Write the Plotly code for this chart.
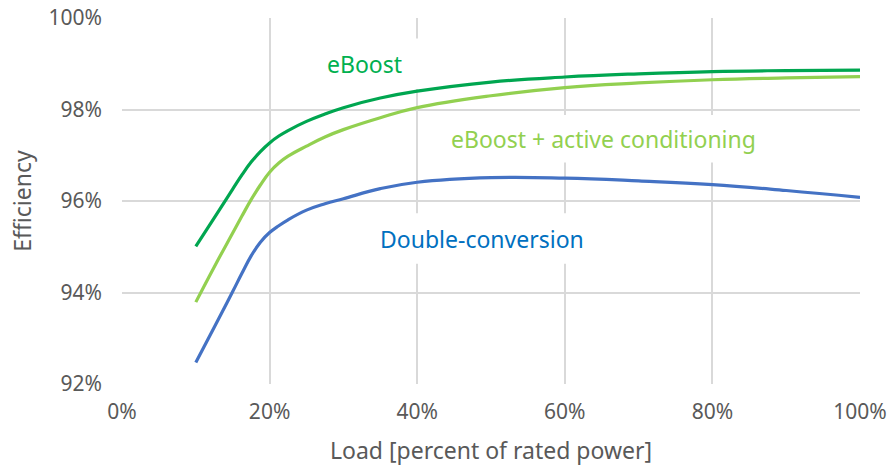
import plotly.graph_objects as go

load = [10, 12.5, 15, 16.25, 17.5, 18.75, 20, 21.25, 22.5, 25, 27.5, 30, 35, 40, 50, 60, 70, 80, 90, 100]
eboost = [95.01, 95.63, 96.26, 96.57, 96.85, 97.08, 97.27, 97.42, 97.54, 97.74, 97.90, 98.04, 98.25, 98.40,
          98.60, 98.71, 98.78, 98.83, 98.85, 98.86]
eboost_active = [93.79, 94.56, 95.30, 95.67, 96.03, 96.35, 96.63, 96.83, 96.98, 97.20, 97.40, 97.56, 97.82, 98.04,
                 98.30, 98.48, 98.58, 98.65, 98.69, 98.72]
double_conv = [92.47, 93.24, 94.02, 94.42, 94.80, 95.10, 95.31, 95.46, 95.59, 95.80, 95.94, 96.05, 96.27, 96.41,
               96.51, 96.50, 96.44, 96.36, 96.23, 96.08]

series_names = ["eBoost", "eBoost + active conditioning", "Double-conversion"]
line_colors = ["#00A650", "#92D050", "#4472C4"]
label_colors = ["#00B050", "#92D050", "#0070C0"]

x_ticks = [0, 20, 40, 60, 80, 100]
y_ticks = [92, 94, 96, 98, 100]

FONT = "Noto Sans"
GREY = "#595959"

fig = go.Figure()
for name, ys, col in zip(series_names, [eboost, eboost_active, double_conv], line_colors):
    fig.add_trace(go.Scatter(x=load, y=ys, mode="lines", name=name,
                             line=dict(color=col, width=3.2, shape="spline", smoothing=1.2)))

# in-plot labels: (center x, center y) in data units, and white label-box half sizes
label_pos = [(32.8, 99.0), (65.3, 97.36), (48.8, 95.18)]
box_half = [(7.5, 0.55), (22.5, 0.52), (15.5, 0.55)]
for (lx, ly), (hw, hh), txt, col in zip(label_pos, box_half, series_names, label_colors):
    fig.add_shape(type="rect", xref="x", yref="y", x0=lx - hw, x1=lx + hw, y0=ly - hh, y1=ly + hh,
                  fillcolor="white", line=dict(width=0), layer="between")
    fig.add_annotation(x=lx, y=ly, xref="x", yref="y", text=txt, showarrow=False,
                       font=dict(family=FONT, size=23, color=col))

fig.update_layout(
    width=890, height=466,
    margin=dict(l=122, r=30, t=18, b=82),
    paper_bgcolor="white", plot_bgcolor="white",
    showlegend=False,
    font=dict(family=FONT, color=GREY),
)
fig.update_xaxes(range=[0, 100], tickvals=x_ticks, ticktext=[f"{v}%" for v in x_ticks],
                 showgrid=True, gridcolor="#D9D9D9", gridwidth=2, zeroline=False,
                 showline=False, ticks="", tickfont=dict(size=21, color=GREY),
                 ticklabelstandoff=13, automargin=False,
                 title=dict(text="Load [percent of rated power]", font=dict(size=23, color=GREY), standoff=24))
fig.update_yaxes(range=[92, 100], tickvals=y_ticks, ticktext=[f"{v}%" for v in y_ticks],
                 showgrid=True, gridcolor="#D9D9D9", gridwidth=2, zeroline=False,
                 showline=False, ticks="", tickfont=dict(size=21, color=GREY),
                 ticklabelstandoff=19, automargin=False,
                 title=dict(text="Efficiency", font=dict(size=23, color=GREY), standoff=10))

fig.write_html("out.html", config={"displayModeBar": False},
               post_script="document.body.style.margin='0';")
